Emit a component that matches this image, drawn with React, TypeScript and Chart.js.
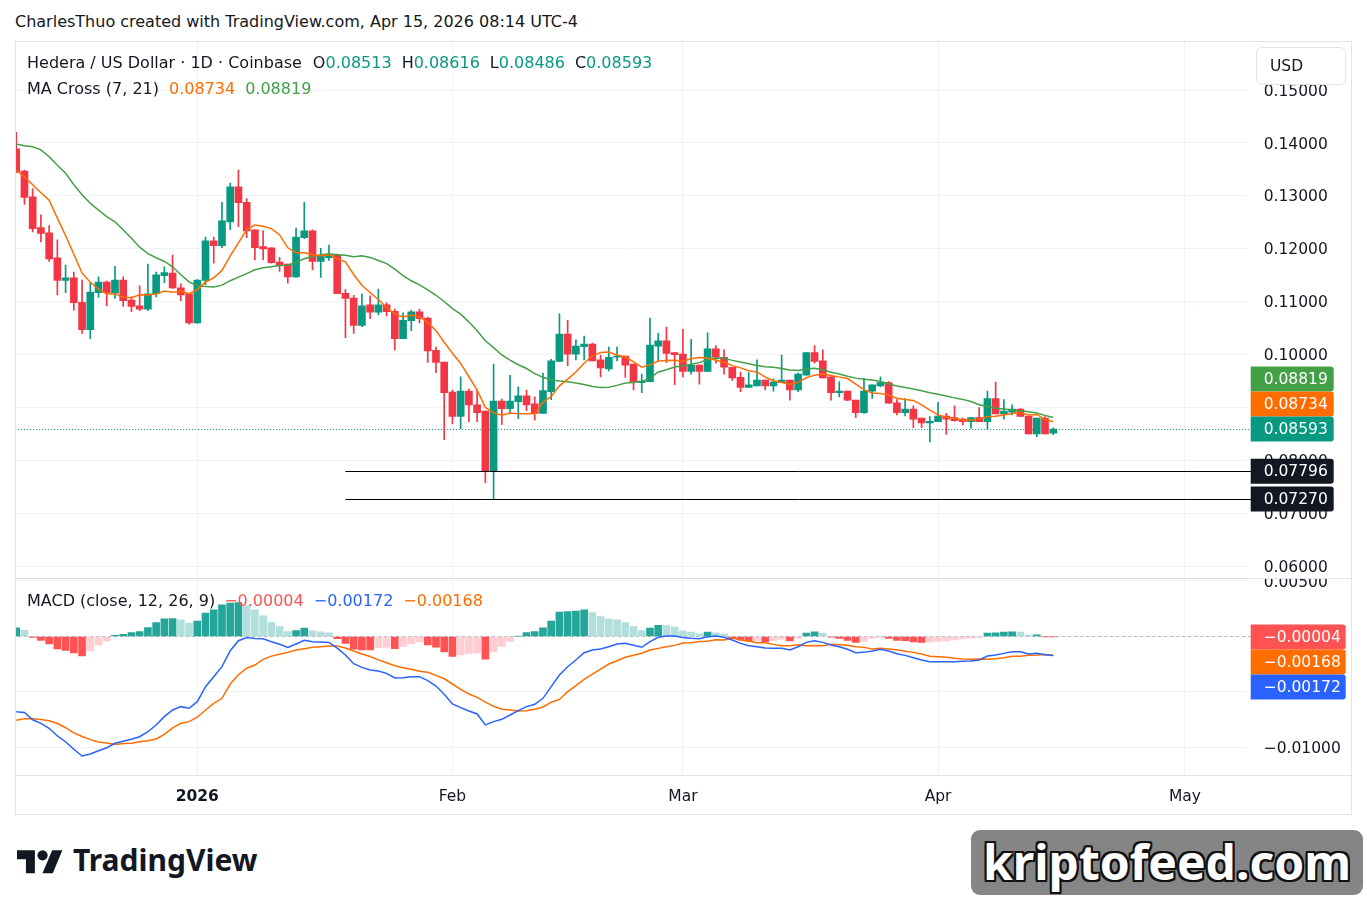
import React, { useEffect, useRef } from "react";
import { Chart, registerables } from "chart.js";

Chart.register(...registerables);

// ---------------- data ----------------
const startDate = "2025-12-10";
const axisDays = 150;
const timeTickDates = ["2026-01-01", "2026-02-01", "2026-03-01", "2026-04-01", "2026-05-01"];
const timeTickLabels = ["2026", "Feb", "Mar", "Apr", "May"];

const opens = [
  0.1389, 0.1347, 0.1298, 0.1240, 0.1230, 0.1183, 0.1140, 0.1145, 0.1099, 0.1047,
  0.1117, 0.1137, 0.1116, 0.1141, 0.1103, 0.1092, 0.1086, 0.1115, 0.1149, 0.1154,
  0.1126, 0.1115, 0.1060, 0.1140, 0.1215, 0.1206, 0.1251, 0.1317, 0.1288, 0.1236,
  0.1204, 0.1202, 0.1175, 0.1171, 0.1147, 0.1221, 0.1234, 0.1176, 0.1183, 0.1188,
  0.1116, 0.1107, 0.1055, 0.1094, 0.1080, 0.1094, 0.1082, 0.1030, 0.1064, 0.1081,
  0.1069, 0.1008, 0.0986, 0.0929, 0.0883, 0.0931, 0.0905, 0.0893, 0.07796, 0.0912,
  0.0898, 0.0911, 0.0922, 0.0907, 0.0889, 0.0930, 0.0987, 0.1039, 0.1001, 0.1015,
  0.1020, 0.0990, 0.0973, 0.0995, 0.0997, 0.0982, 0.0947, 0.0949, 0.1016, 0.1026,
  0.1004, 0.1001, 0.0968, 0.0980, 0.0968, 0.1011, 0.0995, 0.0976, 0.0957, 0.0938,
  0.0941, 0.0952, 0.0941, 0.0947, 0.0952, 0.0933, 0.0961, 0.1004, 0.0988, 0.0958,
  0.0928, 0.0931, 0.0914, 0.0890, 0.0931, 0.0941, 0.0947, 0.0909, 0.0890, 0.0897,
  0.0880, 0.0871, 0.0873, 0.0884, 0.0881, 0.0878, 0.0873, 0.0881, 0.0873, 0.0917,
  0.0888, 0.0891, 0.0897, 0.0884, 0.0850, 0.0880, 0.08513,
];
const highs = [
  0.1420, 0.1349, 0.1314, 0.1264, 0.1244, 0.1217, 0.1169, 0.1156, 0.1141, 0.1135,
  0.1147, 0.1139, 0.1167, 0.1147, 0.1109, 0.1130, 0.1171, 0.1156, 0.1166, 0.1188,
  0.1134, 0.1116, 0.1142, 0.1222, 0.1222, 0.1288, 0.1324, 0.1349, 0.1295, 0.1236,
  0.1234, 0.1202, 0.1184, 0.1171, 0.1239, 0.1288, 0.1236, 0.1201, 0.1207, 0.1190,
  0.1123, 0.1112, 0.1115, 0.1111, 0.1124, 0.1098, 0.1086, 0.1079, 0.1084, 0.1086,
  0.1071, 0.1014, 0.0986, 0.0933, 0.0958, 0.0935, 0.0934, 0.0893, 0.0982, 0.0916,
  0.0961, 0.0939, 0.0933, 0.0920, 0.0965, 0.0991, 0.1077, 0.1065, 0.1028, 0.1035,
  0.1022, 0.0999, 0.1014, 0.1014, 0.0997, 0.0982, 0.0963, 0.1069, 0.1040, 0.1052,
  0.1004, 0.1048, 0.1029, 0.0980, 0.1041, 0.1017, 0.1009, 0.0976, 0.0967, 0.0966,
  0.0990, 0.0952, 0.0954, 0.0999, 0.0952, 0.0965, 0.1004, 0.1017, 0.1009, 0.0958,
  0.0949, 0.0931, 0.0914, 0.0955, 0.0943, 0.0958, 0.0949, 0.0915, 0.0917, 0.0903,
  0.0880, 0.0883, 0.0910, 0.0889, 0.0903, 0.0880, 0.0881, 0.0900, 0.0931, 0.0948,
  0.0915, 0.0905, 0.0898, 0.0884, 0.0880, 0.0883, 0.08616,
];
const lows = [
  0.1344, 0.1284, 0.1232, 0.1213, 0.1176, 0.1113, 0.1117, 0.1084, 0.1040, 0.1030,
  0.1108, 0.1092, 0.1106, 0.1091, 0.1081, 0.1083, 0.1083, 0.1109, 0.1136, 0.1125,
  0.1102, 0.1057, 0.1059, 0.1132, 0.1173, 0.1202, 0.1236, 0.1242, 0.1221, 0.1179,
  0.1179, 0.1173, 0.1157, 0.1135, 0.1146, 0.1219, 0.1160, 0.1146, 0.1178, 0.1115,
  0.1032, 0.1040, 0.1053, 0.1068, 0.1075, 0.1073, 0.1009, 0.1030, 0.1045, 0.1060,
  0.0985, 0.0966, 0.0839, 0.0869, 0.0860, 0.0873, 0.0873, 0.0758, 0.0727, 0.0868,
  0.0888, 0.0879, 0.0894, 0.0876, 0.0889, 0.0915, 0.0987, 0.0979, 0.0990, 0.0990,
  0.0988, 0.0958, 0.0969, 0.0988, 0.0957, 0.0933, 0.0928, 0.0949, 0.0988, 0.0985,
  0.0943, 0.0958, 0.0963, 0.0944, 0.0968, 0.0984, 0.0963, 0.0951, 0.0930, 0.0938,
  0.0941, 0.0933, 0.0931, 0.0947, 0.0914, 0.0930, 0.0961, 0.0984, 0.0956, 0.0914,
  0.0920, 0.0913, 0.0881, 0.0889, 0.0917, 0.0939, 0.0908, 0.0886, 0.0884, 0.0862,
  0.0862, 0.0835, 0.0873, 0.0849, 0.0874, 0.0867, 0.0861, 0.0873, 0.0859, 0.0888,
  0.0878, 0.0886, 0.0883, 0.0850, 0.0845, 0.0850, 0.08486,
];
const closes = [
  0.1345, 0.1297, 0.1238, 0.1229, 0.1181, 0.1140, 0.1145, 0.1098, 0.1047, 0.1118,
  0.1137, 0.1117, 0.1141, 0.1102, 0.1091, 0.1086, 0.1115, 0.1151, 0.1155, 0.1126,
  0.1113, 0.1060, 0.1141, 0.1215, 0.1206, 0.1253, 0.1317, 0.1287, 0.1234, 0.1202,
  0.1200, 0.1174, 0.1169, 0.1147, 0.1222, 0.1234, 0.1176, 0.1186, 0.1188, 0.1115,
  0.1106, 0.1055, 0.1092, 0.1080, 0.1094, 0.1081, 0.1030, 0.1065, 0.1081, 0.1068,
  0.1007, 0.0985, 0.0928, 0.0883, 0.0931, 0.0905, 0.0890, 0.07796, 0.0912, 0.0898,
  0.0912, 0.0922, 0.0905, 0.0889, 0.0932, 0.0988, 0.1039, 0.1001, 0.1016, 0.1020,
  0.0988, 0.0975, 0.0995, 0.0997, 0.0980, 0.0949, 0.0950, 0.1018, 0.1026, 0.1002,
  0.1000, 0.0968, 0.0980, 0.0968, 0.1011, 0.0995, 0.0976, 0.0956, 0.0938, 0.0943,
  0.0952, 0.0941, 0.0948, 0.0952, 0.0933, 0.0963, 0.1004, 0.0987, 0.0956, 0.0928,
  0.0931, 0.0914, 0.0890, 0.0931, 0.0943, 0.0947, 0.0908, 0.0890, 0.0897, 0.0878,
  0.0871, 0.0874, 0.0884, 0.0878, 0.0875, 0.0873, 0.0881, 0.0873, 0.0917, 0.0888,
  0.0893, 0.0897, 0.0883, 0.0850, 0.0880, 0.0850, 0.08593,
];

// MA values visible before a full window exists
const ma7Lead = [0.1349, 0.1336, 0.1321, 0.1306, 0.1292, 0.1258];
const ma21Lead = [
  0.1398, 0.1395, 0.1393, 0.1387, 0.1374, 0.1358, 0.1343, 0.1321, 0.1302, 0.1286,
  0.1273, 0.1261, 0.1251, 0.1236, 0.1220, 0.1203, 0.1191, 0.1183, 0.1176, 0.1166,
];

const macdValues = [
  -0.00677, -0.00685, -0.00750, -0.00782, -0.00827, -0.00896, -0.00948, -0.01016, -0.01077, -0.01059,
  -0.01029, -0.01002, -0.00962, -0.00944, -0.00926, -0.00903, -0.00858, -0.00797, -0.00722, -0.00662,
  -0.00632, -0.00647, -0.00587, -0.00452, -0.00362, -0.00272, -0.00128, -0.00038, -0.00010, -0.00017,
  -0.00020, -0.00047, -0.00070, -0.00098, -0.00068, -0.00035, -0.00047, -0.00050, -0.00053, -0.00105,
  -0.00167, -0.00245, -0.00278, -0.00302, -0.00311, -0.00332, -0.00374, -0.00371, -0.00362, -0.00362,
  -0.00398, -0.00446, -0.00521, -0.00608, -0.00641, -0.00671, -0.00698, -0.00797, -0.00767, -0.00746,
  -0.00707, -0.00668, -0.00632, -0.00611, -0.00557, -0.00452, -0.00347, -0.00272, -0.00212, -0.00146,
  -0.00122, -0.00113, -0.00092, -0.00068, -0.00061, -0.00079, -0.00097, -0.00047, -0.00007, 0.00005,
  0.00004, -0.00008, -0.00016, -0.00021, -0.00002, 0.00004, -0.00007, -0.00032, -0.00062, -0.00083,
  -0.00092, -0.00104, -0.00107, -0.00107, -0.00122, -0.00092, -0.00053, -0.00038, -0.00053, -0.00077,
  -0.00092, -0.00115, -0.00146, -0.00143, -0.00130, -0.00115, -0.00130, -0.00155, -0.00170, -0.00191,
  -0.00212, -0.00227, -0.00227, -0.00227, -0.00227, -0.00224, -0.00221, -0.00212, -0.00176, -0.00167,
  -0.00152, -0.00137, -0.00137, -0.00158, -0.00152, -0.00164, -0.00172,
];
const histValues = [
  0.00078, 0.00055, -0.00008, -0.00035, -0.00068, -0.00112, -0.00126, -0.00148, -0.00176, -0.00130,
  -0.00078, -0.00043, 0.00010, 0.00020, 0.00036, 0.00045, 0.00081, 0.00126, 0.00160, 0.00162,
  0.00150, 0.00120, 0.00140, 0.00210, 0.00240, 0.00285, 0.00300, 0.00306, 0.00276, 0.00240,
  0.00186, 0.00130, 0.00090, 0.00045, 0.00054, 0.00075, 0.00050, 0.00042, 0.00033, -0.00020,
  -0.00063, -0.00115, -0.00120, -0.00122, -0.00100, -0.00096, -0.00110, -0.00090, -0.00066, -0.00048,
  -0.00075, -0.00096, -0.00140, -0.00180, -0.00165, -0.00153, -0.00150, -0.00205, -0.00138, -0.00090,
  -0.00045, 0.00003, 0.00036, 0.00045, 0.00078, 0.00140, 0.00220, 0.00225, 0.00230, 0.00240,
  0.00216, 0.00180, 0.00156, 0.00150, 0.00126, 0.00090, 0.00054, 0.00075, 0.00100, 0.00098,
  0.00084, 0.00050, 0.00040, 0.00024, 0.00040, 0.00033, 0.00024, -0.00018, -0.00030, -0.00042,
  -0.00036, -0.00048, -0.00036, -0.00024, -0.00039, -0.00018, 0.00030, 0.00042, 0.00030, -0.00006,
  -0.00018, -0.00036, -0.00054, -0.00045, -0.00018, -0.00009, -0.00018, -0.00036, -0.00037, -0.00048,
  -0.00054, -0.00050, -0.00045, -0.00039, -0.00030, -0.00021, -0.00015, -0.00009, 0.00030, 0.00033,
  0.00040, 0.00042, 0.00040, 0.00012, 0.00015, -0.00002, -0.00004,
];

const priceTicks = [0.06, 0.07, 0.08, 0.09, 0.10, 0.11, 0.12, 0.13, 0.14, 0.15];
const macdTicks = [0.005, 0, -0.005, -0.01];
const levelPrices = [0.07796, 0.0727];
const levelStartDate = "2026-01-19";

const lastClose = 0.08593;
const maFastLast = 0.08734;
const maSlowLast = 0.08819;
const histLast = -0.00004;
const macdLast = -0.00172;
const signalLast = -0.00168;

// ---------------- style ----------------
const FONT = '"DejaVu Sans", "Noto Sans", Arial, sans-serif';
const FS = 15.5;
const LEGEND_FS = 16;
const TEXT = "#131722";
const UP = "#089981";
const DOWN = "#f23645";
const GRID = "#f0f3fa";
const BORDER = "#e0e3eb";
const MA_FAST = "#ff6d00";
const MA_SLOW = "#43a047";
const MACD_BLUE = "#2962ff";
const SIGNAL_ORANGE = "#ff6d00";

const PRICE_MIN = 0.05777;
const PRICE_MAX = 0.15928;
const MACD_MIN = -0.012478;
const MACD_MAX = 0.00527;

// ---------------- helpers ----------------
const DAY = 86400000;
const startMs = Date.parse(startDate + "T00:00:00Z");
const dayIndex = (iso: string) => Math.round((Date.parse(iso + "T00:00:00Z") - startMs) / DAY);
const labels = Array.from({ length: axisDays }, (_, i) => new Date(startMs + i * DAY).toISOString().slice(0, 10));
const monthIdx = timeTickDates.map(dayIndex);
const levelStart = dayIndex(levelStartDate);

function sma(values: number[], n: number, lead: number[]) {
  return values.map((_, i) => {
    if (i < n - 1) return lead[i];
    let s = 0;
    for (let k = i - n + 1; k <= i; k++) s += values[k];
    return s / n;
  });
}

const fmtSigned = (v: number) => (v < 0 ? "\u2212" + Math.abs(v).toFixed(5) : v.toFixed(5));

function drawBox(ctx: CanvasRenderingContext2D, x: number, cy: number, text: string, color: string) {
  const h = 25;
  ctx.save();
  ctx.font = `${FS}px ${FONT}`;
  const w = Math.max(83, Math.ceil(ctx.measureText(text).width) + 17);
  ctx.fillStyle = color;
  ctx.beginPath();
  (ctx as any).roundRect(x, cy - h / 2, w, h, [0, 3, 3, 0]);
  ctx.fill();
  ctx.fillStyle = "#ffffff";
  ctx.textBaseline = "middle";
  ctx.textAlign = "left";
  ctx.fillText(text, x + 13, cy + 1);
  ctx.restore();
}

function gridColor(ctx: any) {
  return monthIdx.includes(ctx.index) ? GRID : "rgba(0,0,0,0)";
}

export default function App() {
  const mainRef = useRef<HTMLCanvasElement | null>(null);
  const macdRef = useRef<HTMLCanvasElement | null>(null);

  useEffect(() => {
    const candleColors = closes.map((c, i) => (c >= opens[i] ? UP : DOWN));
    const bodies = opens.map((o, i) => [Math.min(o, closes[i]), Math.max(o, closes[i])]);
    const wicks = lows.map((l, i) => [l, highs[i]]);
    const ma7 = sma(closes, 7, ma7Lead);
    const ma21 = sma(closes, 21, ma21Lead);

    const mainPlugin = {
      id: "mainOverlay",
      beforeDatasetsDraw(chart: any) {
        const { ctx, chartArea: a, scales } = chart;
        const py = Math.round(scales.y.getPixelForValue(lastClose)) + 0.5;
        ctx.save();
        ctx.strokeStyle = UP;
        ctx.lineWidth = 1;
        ctx.setLineDash([1, 2]);
        ctx.beginPath();
        ctx.moveTo(a.left, py);
        ctx.lineTo(a.right + 4, py);
        ctx.stroke();
        ctx.restore();
      },
      afterDatasetsDraw(chart: any) {
        const { ctx, chartArea: a, scales } = chart;
        const x0 = scales.x.getPixelForValue(levelStart);
        ctx.save();
        ctx.strokeStyle = "#000000";
        ctx.lineWidth = 1;
        levelPrices.forEach((p) => {
          const py = Math.round(scales.y.getPixelForValue(p)) + 0.5;
          ctx.beginPath();
          ctx.moveTo(x0, py);
          ctx.lineTo(a.right + 5, py);
          ctx.stroke();
        });
        ctx.restore();
      },
      afterDraw(chart: any) {
        const { ctx, chartArea: a, scales } = chart;
        const bx = a.right + 4;
        const items = [
          { v: maSlowLast, c: MA_SLOW },
          { v: maFastLast, c: MA_FAST },
          { v: lastClose, c: UP },
        ];
        const pos = items.map((it) => scales.y.getPixelForValue(it.v));
        for (let i = pos.length - 2; i >= 0; i--) pos[i] = Math.min(pos[i], pos[i + 1] - 25);
        items.forEach((it, i) => drawBox(ctx, bx, pos[i], it.v.toFixed(5), it.c));
        levelPrices.forEach((p) => drawBox(ctx, bx, scales.y.getPixelForValue(p), p.toFixed(5), TEXT));
      },
    };

    const main = new Chart(mainRef.current as HTMLCanvasElement, {
      type: "bar",
      data: {
        labels,
        datasets: [
          { type: "line", data: ma7, borderColor: MA_FAST, borderWidth: 1.5, pointRadius: 0, order: -2 } as any,
          { type: "line", data: ma21, borderColor: MA_SLOW, borderWidth: 1.5, pointRadius: 0, order: -1 } as any,
          { data: bodies, backgroundColor: candleColors, barThickness: 7, grouped: false, minBarLength: 1, order: 1 } as any,
          { data: wicks, backgroundColor: candleColors, barThickness: 1, grouped: false, order: 2 } as any,
        ],
      },
      options: {
        responsive: false,
        animation: false,
        events: [],
        layout: { padding: { left: 12.1, right: 0, top: 0, bottom: 0 } },
        plugins: { legend: { display: false }, tooltip: { enabled: false } },
        scales: {
          x: {
            type: "category",
            offset: true,
            border: { display: false },
            grid: { offset: false, drawTicks: false, color: gridColor },
            ticks: { display: false, autoSkip: false },
            afterFit: (s: any) => {
              s.height = 0;
              s.paddingLeft = 0;
              s.paddingRight = 0;
            },
          },
          y: {
            position: "right",
            min: PRICE_MIN,
            max: PRICE_MAX,
            border: { display: false },
            grid: { color: GRID, drawTicks: false },
            afterBuildTicks: (s: any) => {
              s.ticks = priceTicks.map((v) => ({ value: v }));
            },
            ticks: {
              padding: 17,
              labelOffset: 1.5,
              color: TEXT,
              font: { family: FONT, size: FS },
              callback: (v: any) => Number(v).toFixed(5),
            },
            afterFit: (s: any) => {
              s.width = 105.3;
              s.paddingTop = 0;
              s.paddingBottom = 0;
            },
          },
        },
      } as any,
      plugins: [mainPlugin],
    });

    const histColors = histValues.map((h, i) => {
      const prev = i > 0 ? histValues[i - 1] : -Infinity;
      if (h >= 0) return h > prev ? "#26a69a" : "#b2dfdb";
      return h < prev ? "#ff5252" : "#ffcdd2";
    });
    const signalValues = macdValues.map((m, i) => m - histValues[i]);

    const macdPlugin = {
      id: "macdOverlay",
      beforeDatasetsDraw(chart: any) {
        const { ctx, chartArea: a, scales } = chart;
        const py = Math.round(scales.y.getPixelForValue(0)) + 0.5;
        ctx.save();
        ctx.strokeStyle = "#b2b5be";
        ctx.lineWidth = 1;
        ctx.setLineDash([3, 3]);
        ctx.beginPath();
        ctx.moveTo(a.left, py);
        ctx.lineTo(a.right + 4, py);
        ctx.stroke();
        ctx.restore();
      },
      afterDraw(chart: any) {
        const { ctx, chartArea: a, scales } = chart;
        const bx = a.right + 4;
        const items = [
          { v: histLast, c: "#ff5252" },
          { v: signalLast, c: SIGNAL_ORANGE },
          { v: macdLast, c: MACD_BLUE },
        ];
        const pos = items.map((it) => scales.y.getPixelForValue(it.v));
        for (let i = 1; i < pos.length; i++) pos[i] = Math.max(pos[i], pos[i - 1] + 25);
        items.forEach((it, i) => drawBox(ctx, bx, pos[i], fmtSigned(it.v), it.c));
      },
    };

    const macd = new Chart(macdRef.current as HTMLCanvasElement, {
      type: "bar",
      data: {
        labels,
        datasets: [
          { type: "line", data: macdValues, borderColor: MACD_BLUE, borderWidth: 1.5, pointRadius: 0, order: -2 } as any,
          { type: "line", data: signalValues, borderColor: SIGNAL_ORANGE, borderWidth: 1.5, pointRadius: 0, order: -1 } as any,
          { data: histValues, backgroundColor: histColors, barThickness: 7, order: 1 } as any,
        ],
      },
      options: {
        responsive: false,
        animation: false,
        events: [],
        layout: { padding: { left: 12.1, right: 0, top: 0, bottom: 0 } },
        plugins: { legend: { display: false }, tooltip: { enabled: false } },
        scales: {
          x: {
            type: "category",
            offset: true,
            border: { display: false },
            grid: { offset: false, drawTicks: false, color: gridColor },
            ticks: {
              autoSkip: false,
              maxRotation: 0,
              minRotation: 0,
              padding: 13,
              color: TEXT,
              font: (c: any) => ({ family: FONT, size: FS, weight: c.index === monthIdx[0] ? "bold" : "normal" }),
              callback: (_v: any, i: number) => {
                const k = monthIdx.indexOf(i);
                return k >= 0 ? timeTickLabels[k] : "";
              },
            },
            afterFit: (s: any) => {
              s.height = 40;
              s.paddingLeft = 0;
              s.paddingRight = 0;
            },
          },
          y: {
            position: "right",
            min: MACD_MIN,
            max: MACD_MAX,
            border: { display: false },
            grid: { color: GRID, drawTicks: false },
            afterBuildTicks: (s: any) => {
              s.ticks = macdTicks.map((v) => ({ value: v }));
            },
            ticks: {
              padding: 17,
              labelOffset: 1.5,
              color: TEXT,
              font: { family: FONT, size: FS },
              callback: (v: any) => fmtSigned(Number(v)),
            },
            afterFit: (s: any) => {
              s.width = 105.3;
              s.paddingTop = 0;
              s.paddingBottom = 0;
            },
          },
        },
      } as any,
      plugins: [macdPlugin],
    });

    return () => {
      main.destroy();
      macd.destroy();
    };
  }, []);

  const abs = (l: number, t: number, extra: React.CSSProperties = {}): React.CSSProperties => ({
    position: "absolute",
    left: l,
    top: t,
    ...extra,
  });
  const legendText: React.CSSProperties = { fontSize: LEGEND_FS, lineHeight: "20px", color: TEXT, whiteSpace: "nowrap" };

  return (
    <div
      style={{
        position: "fixed",
        left: 0,
        top: 0,
        width: 1367,
        height: 906,
        background: "#ffffff",
        overflow: "hidden",
        fontFamily: FONT,
      }}
    >
      <div style={abs(15, 12, { ...legendText })}>
        CharlesThuo created with TradingView.com, Apr 15, 2026 08:14 UTC-4
      </div>

      <canvas ref={mainRef} width={1352} height={537} style={abs(0, 41, { width: 1352, height: 537 })} />
      <canvas ref={macdRef} width={1352} height={237} style={abs(0, 578, { width: 1352, height: 237 })} />

      {/* left cover + frame */}
      <div style={abs(0, 41, { width: 15, height: 775, background: "#ffffff" })} />
      <div style={abs(15, 41, { width: 1337, height: 774, border: `1px solid ${BORDER}`, boxSizing: "border-box" })} />
      <div style={abs(15, 578, { width: 1337, height: 1, background: BORDER })} />
      <div style={abs(15, 775, { width: 1337, height: 1, background: BORDER })} />

      {/* legends */}
      <div style={abs(27, 53, legendText)}>
        <span>Hedera / US Dollar · 1D · Coinbase</span>
        <span style={{ marginLeft: 11 }}>O<span style={{ color: UP }}>0.08513</span></span>
        <span style={{ marginLeft: 10 }}>H<span style={{ color: UP }}>0.08616</span></span>
        <span style={{ marginLeft: 10 }}>L<span style={{ color: UP }}>0.08486</span></span>
        <span style={{ marginLeft: 10 }}>C<span style={{ color: UP }}>0.08593</span></span>
      </div>
      <div style={abs(27, 79, legendText)}>
        <span>MA Cross (7, 21)</span>
        <span style={{ marginLeft: 10, color: MA_FAST }}>{maFastLast.toFixed(5)}</span>
        <span style={{ marginLeft: 10, color: MA_SLOW }}>{maSlowLast.toFixed(5)}</span>
      </div>
      <div style={abs(27, 591, legendText)}>
        <span>MACD (close, 12, 26, 9)</span>
        <span style={{ marginLeft: 9, color: "#ff5252" }}>{fmtSigned(histLast)}</span>
        <span style={{ marginLeft: 10, color: MACD_BLUE }}>{fmtSigned(macdLast)}</span>
        <span style={{ marginLeft: 10, color: SIGNAL_ORANGE }}>{fmtSigned(signalLast)}</span>
      </div>

      {/* currency button */}
      <div
        style={abs(1256, 47, {
          width: 90,
          height: 38,
          boxSizing: "border-box",
          border: `1px solid ${BORDER}`,
          borderRadius: 6,
          background: "#ffffff",
          fontSize: FS,
          lineHeight: "36px",
          paddingLeft: 13,
          color: TEXT,
        })}
      >
        USD
      </div>

      {/* TradingView logo */}
      <svg style={abs(17, 845)} width={46} height={36} viewBox="0 0 36 28">
        <path d="M14 22H7V11H0V4h14v18zM28 22h-8l7.5-18h8L28 22z" fill={TEXT} />
        <circle cx="20" cy="8" r="4" fill={TEXT} />
      </svg>
      <div
        style={abs(73, 841, {
          fontFamily: '"Noto Sans", sans-serif',
          fontSize: 30,
          fontWeight: 700,
          color: TEXT,
          lineHeight: "38px",
        })}
      >
        TradingView
      </div>

      {/* watermark */}
      <div
        style={abs(971, 830, {
          width: 392,
          height: 65,
          borderRadius: 9,
          background: "rgba(120,120,120,0.9)",
        })}
      />
      <div
        style={abs(971, 830, {
          width: 392,
          height: 65,
          textAlign: "center",
          fontFamily: '"Noto Sans", sans-serif',
          fontSize: 48,
          fontWeight: 700,
          lineHeight: "64px",
          color: "#ffffff",
          textShadow:
            "-2px -2px 0 #111, 2px -2px 0 #111, -2px 2px 0 #111, 2px 2px 0 #111, 0 -2px 0 #111, 0 2px 0 #111, -2px 0 0 #111, 2px 0 0 #111",
        })}
      >
        kriptofeed.com
      </div>
    </div>
  );
}
